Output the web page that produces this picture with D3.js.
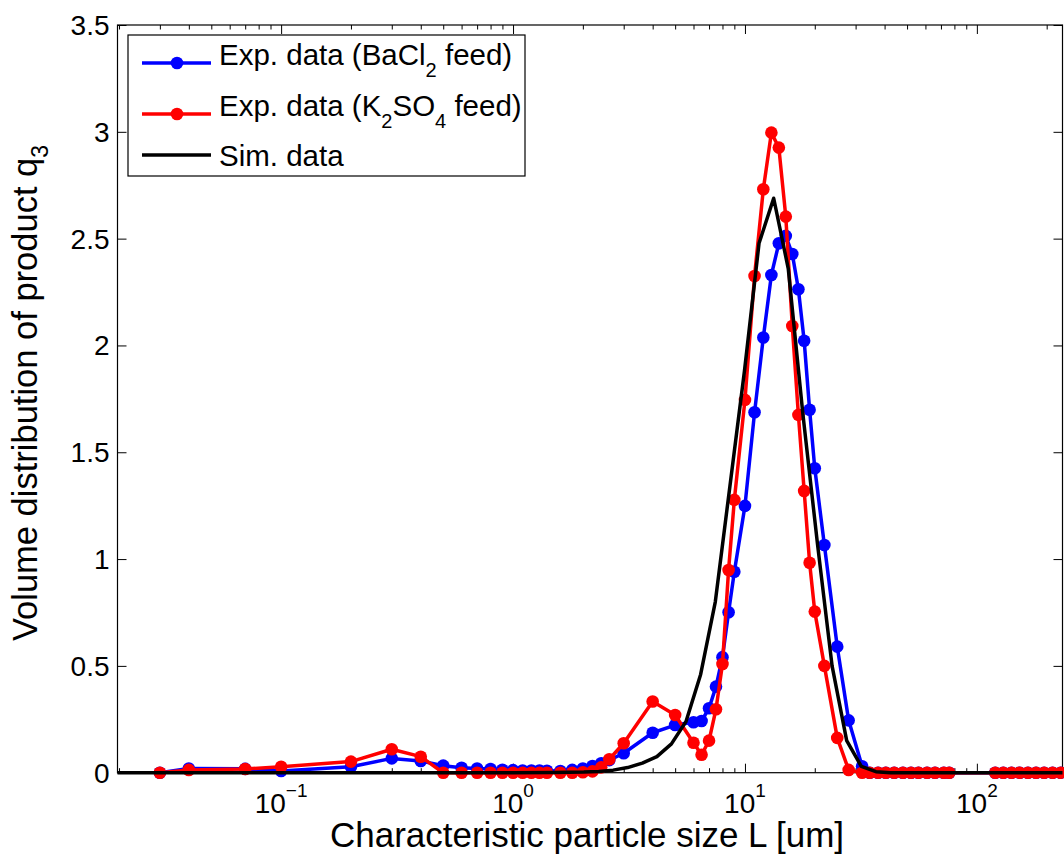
<!DOCTYPE html>
<html>
<head>
<meta charset="utf-8">
<script src="https://cdn.jsdelivr.net/npm/d3@7"></script>
<style>
  body { margin: 0; background: #fff; }
  text { font-family: "Liberation Sans", Arial, Helvetica, sans-serif; fill: #000; }
</style>
</head>
<body>
<svg id="chart" width="1064" height="856"></svg>
<script>
// Particle size classes [um] shared by both measured distributions
const sizes = [0.03, 0.04, 0.07, 0.1, 0.2, 0.3, 0.4,
  0.5, 0.6, 0.7, 0.8, 0.9,
  1.0, 1.1, 1.2, 1.3, 1.4,
  1.6, 1.8, 2.0, 2.2, 2.4, 2.6,
  3, 4, 5, 6, 6.5, 7, 7.5, 8, 8.5, 9,
  10, 11, 12, 13, 14, 15, 16, 17, 18, 19, 20,
  22, 25, 28, 32,
  34.5, 37.5, 40.5, 44, 48, 52, 56, 61, 66, 72, 76,
  120, 130, 141, 153, 166, 180, 195, 212, 230];

// Volume distribution q3, BaCl2 feed
const bacl2Feed = [0, 0.02, 0.018, 0.008, 0.028, 0.067, 0.055,
  0.033, 0.023, 0.02, 0.017, 0.014,
  0.012, 0.01, 0.01, 0.01, 0.009,
  0.008, 0.013, 0.02, 0.031, 0.044, 0.059,
  0.091, 0.187, 0.223, 0.236, 0.242, 0.302, 0.403, 0.541, 0.751, 0.941,
  1.249, 1.687, 2.037, 2.330, 2.478, 2.513, 2.428, 2.263, 2.022, 1.699, 1.425,
  1.066, 0.59, 0.245, 0.03,
  0, 0, 0, 0, 0, 0, 0, 0, 0, 0, 0,
  0, 0, 0, 0, 0, 0, 0, 0, 0];

// Volume distribution q3, K2SO4 feed
const k2so4Feed = [0, 0.013, 0.017, 0.028, 0.052, 0.11, 0.075,
  0, 0, 0, 0, 0,
  0, 0, 0, 0, 0,
  0, 0, 0.002, 0.006, 0.025, 0.063,
  0.138, 0.333, 0.27, 0.14, 0.084, 0.15, 0.297, 0.509, 0.949, 1.277,
  1.745, 2.325, 2.731, 2.996, 2.926, 2.603, 2.091, 1.675, 1.319, 0.983, 0.754,
  0.5, 0.163, 0.013, 0,
  0, 0, 0, 0, 0, 0, 0, 0, 0, 0, 0,
  0, 0, 0, 0, 0, 0, 0, 0, 0];

// Simulated distribution
const simSizes = [0.0197, 1.0, 1.5, 2.02, 2.34, 2.70, 3.12, 3.61, 4.17, 4.82, 5.57, 6.44, 7.45,
  8.61, 9.95, 11.5, 13.3, 15.37, 17.77, 20.55, 23.75, 27.46, 31.74, 36.7, 42.4, 234];
const simValues = [0, 0, 0.001, 0.003, 0.006, 0.012, 0.024, 0.045, 0.075, 0.135, 0.24, 0.46, 0.80,
  1.34, 1.88, 2.478, 2.689, 2.36, 1.68, 1.07, 0.5, 0.15, 0.03, 0.005, 0, 0];

// Axes
const xDomain = [0.0197, 234];
const yDomain = [0, 3.5];
const yTicks = [0, 0.5, 1, 1.5, 2, 2.5, 3, 3.5];
const yTickLabels = ["0", "0.5", "1", "1.5", "2", "2.5", "3", "3.5"];
const xTicks = [0.1, 1, 10, 100];
const xTickExponents = ["\u22121", "0", "1", "2"];

const xLabel = "Characteristic particle size L [um]";
const yLabelMain = "Volume distribution of product q";
const yLabelSub = "3";

const legendRows = [
  { parts: [["Exp. data (BaCl", false], ["2", true], [" feed)", false]], color: "#0000ff", marker: true },
  { parts: [["Exp. data (K", false], ["2", true], ["SO", false], ["4", true], [" feed)", false]], color: "#ff0000", marker: true },
  { parts: [["Sim. data", false]], color: "#000000", marker: false }
];

const plot = { left: 117.5, right: 1062.5, top: 25, bottom: 772.7 };
const svg = d3.select("#chart");

const x = d3.scaleLog().domain(xDomain).range([plot.left, plot.right]);
const y = d3.scaleLinear().domain(yDomain).range([plot.bottom, plot.top]);

// minor tick values: 2..9 per decade inside the domain
const minorTicks = [];
for (let e = -2; e <= 2; e++) {
  for (let m = 2; m <= 9; m++) {
    const v = m * Math.pow(10, e);
    if (v > xDomain[0] && v < xDomain[1]) minorTicks.push(v);
  }
}

const axisG = svg.append("g");
const majorLen = 9, minorLen = 4.5;

function tickAxis(axisFn, scale, values, len, tx, ty) {
  const g = axisG.append("g").attr("transform", `translate(${tx},${ty})`)
    .call(axisFn(scale).tickValues(values).tickSizeInner(-len).tickSizeOuter(0).tickFormat(""));
  g.select(".domain").remove();
  g.selectAll(".tick line").attr("stroke", "#000").attr("stroke-width", 1);
  return g;
}
tickAxis(d3.axisBottom, x, xTicks, majorLen, 0, plot.bottom);
tickAxis(d3.axisBottom, x, minorTicks, minorLen, 0, plot.bottom);
tickAxis(d3.axisTop, x, xTicks, majorLen, 0, plot.top);
tickAxis(d3.axisTop, x, minorTicks, minorLen, 0, plot.top);
tickAxis(d3.axisLeft, y, yTicks, majorLen, plot.left, 0);
tickAxis(d3.axisRight, y, yTicks, majorLen, plot.right, 0);

// axes box
axisG.append("rect")
  .attr("x", plot.left).attr("y", plot.top)
  .attr("width", plot.right - plot.left).attr("height", plot.bottom - plot.top)
  .attr("fill", "none").attr("stroke", "#000").attr("stroke-width", 1.2);

// y tick labels
svg.append("g").selectAll("text").data(yTicks).join("text")
  .attr("x", plot.left - 8)
  .attr("y", d => y(d) + 10)
  .attr("text-anchor", "end")
  .attr("font-size", 28)
  .text((d, i) => yTickLabels[i]);

// x tick labels as powers of ten
const xt = svg.append("g").selectAll("text").data(xTicks).join("text")
  .attr("x", d => x(d))
  .attr("y", 813)
  .attr("text-anchor", "middle")
  .attr("font-size", 28);
xt.append("tspan").text("10");
xt.append("tspan").attr("dy", -16).attr("font-size", 19).text((d, i) => xTickExponents[i]);

// axis labels
svg.append("text")
  .attr("x", 587).attr("y", 847)
  .attr("text-anchor", "middle")
  .attr("font-size", 35)
  .text(xLabel);

const yl = svg.append("text")
  .attr("transform", "translate(37,393) rotate(-90)")
  .attr("text-anchor", "middle")
  .attr("font-size", 34.5);
yl.append("tspan").text(yLabelMain);
yl.append("tspan").attr("dy", 11).attr("font-size", 23).text(yLabelSub);

// data series
const line = d3.line().x(d => x(d[0])).y(d => y(d[1]));
const seriesG = svg.append("g");

function drawMeasured(values, color) {
  const pts = sizes.map((s, i) => [s, values[i]]);
  seriesG.append("path").datum(pts)
    .attr("d", line).attr("fill", "none")
    .attr("stroke", color).attr("stroke-width", 3.5).attr("stroke-linejoin", "round");
  seriesG.append("g").selectAll("circle").data(pts).join("circle")
    .attr("cx", d => x(d[0])).attr("cy", d => y(d[1]))
    .attr("r", 6.3).attr("fill", color);
}
drawMeasured(bacl2Feed, "#0000ff");
drawMeasured(k2so4Feed, "#ff0000");

seriesG.append("path").datum(simSizes.map((s, i) => [s, simValues[i]]))
  .attr("d", line).attr("fill", "none")
  .attr("stroke", "#000").attr("stroke-width", 3.5).attr("stroke-linejoin", "round");

// legend
const lg = svg.append("g");
lg.append("rect").attr("x", 128).attr("y", 35).attr("width", 397).attr("height", 141)
  .attr("fill", "#fff").attr("stroke", "#000").attr("stroke-width", 1.2);
const rowLineY = [63, 114, 155];
const rowTextY = [65, 116, 166];
legendRows.forEach((r, i) => {
  lg.append("line").attr("x1", 142).attr("x2", 211)
    .attr("y1", rowLineY[i]).attr("y2", rowLineY[i])
    .attr("stroke", r.color).attr("stroke-width", 3.5);
  if (r.marker) {
    lg.append("circle").attr("cx", 177).attr("cy", rowLineY[i]).attr("r", 6.3).attr("fill", r.color);
  }
  const t = lg.append("text").attr("x", 219).attr("y", rowTextY[i]).attr("font-size", 29.5);
  let shifted = false;
  r.parts.forEach(([txt, sub]) => {
    const sp = t.append("tspan").text(txt);
    if (sub && !shifted) { sp.attr("dy", 12).attr("font-size", 20); shifted = true; }
    else if (!sub && shifted) { sp.attr("dy", -12); shifted = false; }
    else if (sub) { sp.attr("font-size", 20); }
  });
});
</script>
</body>
</html>
